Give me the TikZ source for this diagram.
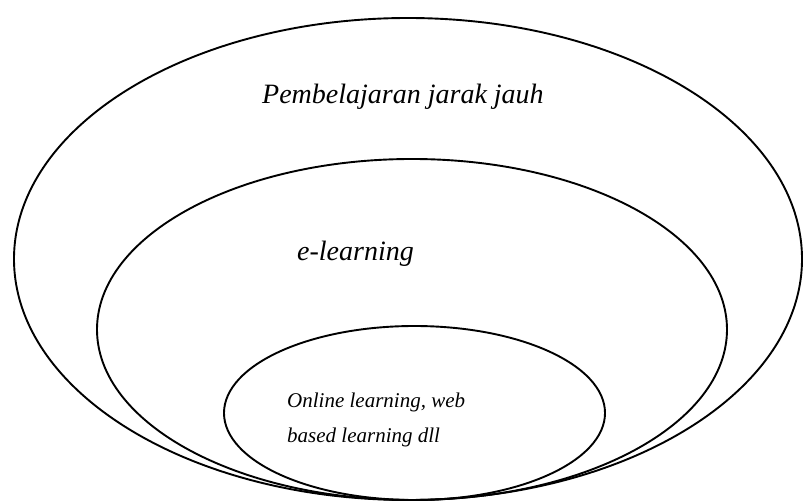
\documentclass[tikz,border=0pt]{standalone}
\usepackage{fontspec}
\setmainfont{Liberation Serif}
\begin{document}
\begin{tikzpicture}[x=1pt,y=-1pt,
  ring/.style={draw=black,line width=1.9pt},
  bigtxt/.style={font=\fontsize{28}{32}\selectfont\itshape,inner sep=0pt,anchor=base west},
  smalltxt/.style={font=\fontsize{21}{25}\selectfont\itshape,inner sep=0pt,anchor=base west}]
\useasboundingbox (0,0) rectangle (803,502);
\fill[white] (0,0) rectangle (803,502);
\draw[ring] (408,259) ellipse [x radius=394, y radius=241];
\draw[ring] (412,329.5) ellipse [x radius=315, y radius=170.5];
\draw[ring] (414.5,413) ellipse [x radius=190.5, y radius=87];
\node[bigtxt] (outer) at (262,104) {Pembelajaran jarak jauh};
\node[bigtxt] (mid) at (297,261) {e-learning};
\node[smalltxt] (innerA) at (287,407) {Online learning, web};
\node[smalltxt] (innerB) at (287,442) {based learning dll};
\end{tikzpicture}
\end{document}
